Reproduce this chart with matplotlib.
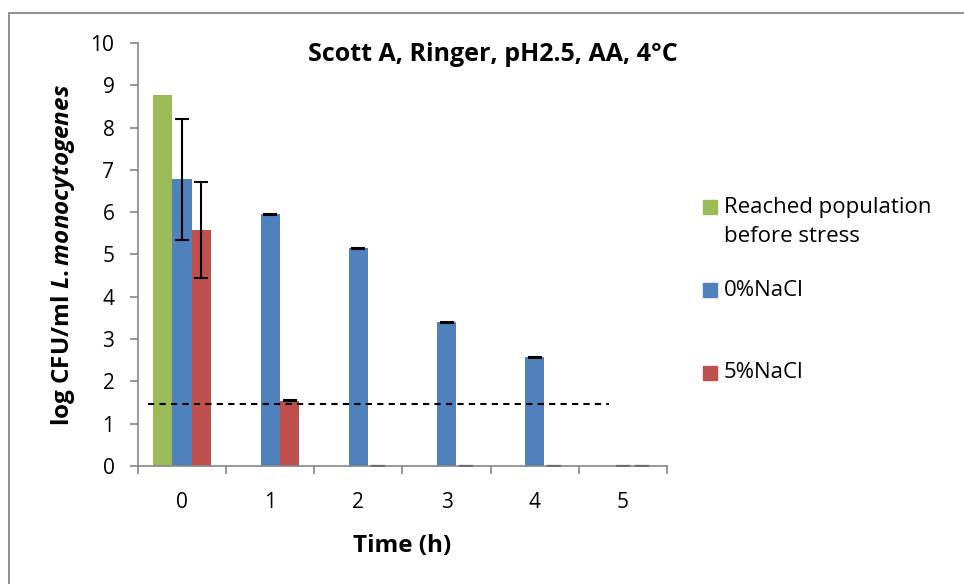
import matplotlib.pyplot as plt
from matplotlib.patches import Rectangle
import numpy as np

plt.rcParams['font.family'] = ['Open Sans', 'DejaVu Sans']
plt.rcParams['mathtext.fontset'] = 'custom'
plt.rcParams['mathtext.it'] = 'Open Sans:italic:bold'
plt.rcParams['mathtext.rm'] = 'Open Sans:bold'

# data
times = [0, 1, 2, 3, 4, 5]
reached = [8.77, 0, 0, 0, 0, 0]
nacl0 = [6.78, 5.95, 5.15, 3.40, 2.57, 0.0]
nacl0_err = [1.43, 0.01, 0.01, 0.01, 0.01, 0.0]
nacl5 = [5.58, 1.54, 0.0, 0.0, 0.0, 0.0]
nacl5_err = [1.13, 0.01, 0.01, 0.01, 0.01, 0.01]
limit = 1.47

green = '#9bbb59'
blue = '#4f81bd'
red = '#c0504d'


def draw():
    fig = plt.figure(figsize=(9.64, 5.84), dpi=100)
    ax = fig.add_axes([138 / 964, 1 - 466 / 584, 529 / 964, 423 / 584])

    x = np.array(times)
    w = 0.22
    ax.bar(x[:1] - w, reached[:1], w, color=green, edgecolor='none')
    ax.bar(x, nacl0, w, color=blue, edgecolor='none')
    ax.bar(x + w, nacl5, w, color=red, edgecolor='none')
    ax.errorbar(x, nacl0, yerr=nacl0_err, fmt='none', ecolor='black',
                elinewidth=1.5, capsize=5, capthick=1.5)
    ax.errorbar(x + w, nacl5, yerr=nacl5_err, fmt='none', ecolor='black',
                elinewidth=1.5, capsize=5, capthick=1.5)

    ax.plot([-0.39, 4.84], [limit, limit], color='black', linestyle=(0, (3, 2.5)),
            linewidth=1.5)

    ax.set_xlim(-0.5, 5.5)
    ax.set_ylim(0, 10)
    ax.set_yticks(range(0, 11))
    ax.set_xticks(times)
    ax.set_xticks(np.arange(-0.5, 6, 1), minor=True)
    ax.tick_params(axis='x', which='major', length=0, pad=19, labelsize=15)
    ax.tick_params(axis='x', which='minor', length=6, direction='out',
                   color='#868686', width=1.2)
    ax.tick_params(axis='y', length=6, direction='out', color='#868686',
                   width=1.2, labelsize=15, pad=11)
    for s in ['top', 'right']:
        ax.spines[s].set_visible(False)
    for s in ['left', 'bottom']:
        ax.spines[s].set_color('#868686')
        ax.spines[s].set_linewidth(1.2)

    ax.set_xlabel('Time (h)', fontsize=17.5, fontweight='bold', labelpad=15)
    ax.set_ylabel('log CFU/ml $\\mathit{L{.}monocytogenes}$',
                  fontsize=17.5, fontweight='bold', labelpad=10)
    ax.text(0.67, 0.972, 'Scott A, Ringer, pH2.5, AA, 4°C',
            transform=ax.transAxes, ha='center', va='center',
            fontsize=18, fontweight='bold')

    # legend
    items = [(green, 207, 'Reached population\nbefore stress', 222),
             (blue, 290, '0%NaCl', 290),
             (red, 373, '5%NaCl', 373)]
    for col, ys, label, yt in items:
        fig.patches.append(Rectangle((703 / 964, 1 - (ys + 7) / 584),
                                     14 / 964, 14 / 584, color=col,
                                     transform=fig.transFigure))
        fig.text(724 / 964, 1 - yt / 584, label, ha='left', va='center',
                 fontsize=16, linespacing=1.45)

    # outer chart border
    fig.patches.append(Rectangle((9 / 964, -0.1), 1.2, 1.1 - 13 / 584,
                                 fill=False, edgecolor='#868686', linewidth=1.3,
                                 transform=fig.transFigure))

    plt.savefig('out.png', dpi=100)


if __name__ == '__main__':
    draw()
